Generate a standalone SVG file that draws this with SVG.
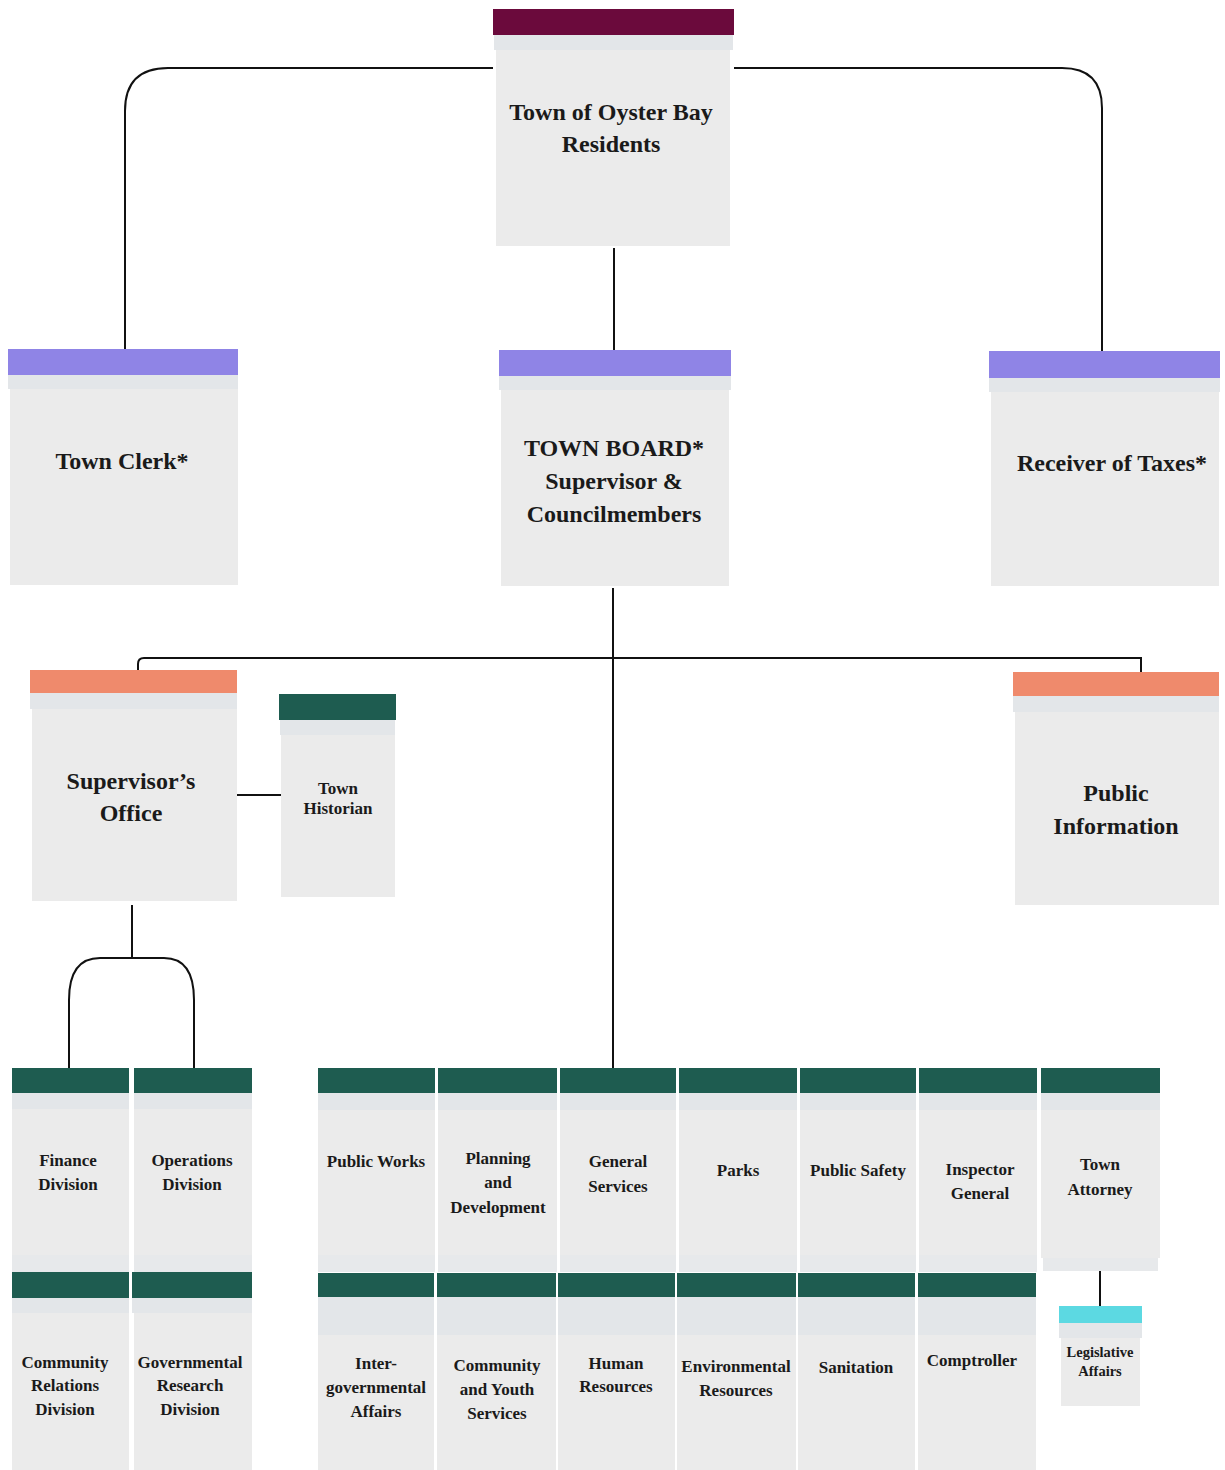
<svg xmlns="http://www.w3.org/2000/svg" width="1225" height="1470" viewBox="0 0 1225 1470">
<style>
.body{fill:#ebebeb}
.band{fill:#e3e6e9}
.sep{fill:#e7e9eb}
.maroon{fill:#6b0a3c}
.purple{fill:#8f84e6}
.salmon{fill:#ef8a6c}
.green{fill:#1e5c50}
.cyan{fill:#5cd9e2}
.conn{fill:none;stroke:#111;stroke-width:2}
text{font-family:"Liberation Serif","Times New Roman",serif;font-weight:bold;fill:#1a1a1a;text-anchor:middle}
.t24{font-size:24px}
.t17{font-size:17px}
.t14{font-size:14.5px}
</style>
<rect width="1225" height="1470" fill="#ffffff"/>
<g id="connectors">
<path class="conn" d="M493,68 H168 Q125,68 125,111 V350"/>
<path class="conn" d="M734,68 H1062 Q1102,68 1102,108 V351"/>
<path class="conn" d="M614,248 V350"/>
<path class="conn" d="M613,588 V1068"/>
<path class="conn" d="M613,658 H144 Q138,658 138,664 V670"/>
<path class="conn" d="M613,658 H1141 V672"/>
<path class="conn" d="M237,795 H281"/>
<path class="conn" d="M132,905 V958"/>
<path class="conn" d="M69,1068 V1000 Q69,958 100,958 H164 Q194,958 194,1000 V1068"/>
<path class="conn" d="M1100,1270 V1306"/>
</g>
<g id="residents">
<rect class="maroon" x="493" y="9" width="241" height="26"/>
<rect class="band" x="494" y="35" width="239" height="15"/>
<rect class="body" x="496" y="50" width="234" height="196"/>
<text class="t24" x="611" y="120">Town of Oyster Bay</text>
<text class="t24" x="611" y="152">Residents</text>
</g>
<g id="town-clerk">
<rect class="purple" x="8" y="349" width="230" height="26"/>
<rect class="band" x="8" y="375" width="230" height="14"/>
<rect class="body" x="10" y="389" width="228" height="196"/>
<text class="t24" x="122" y="469">Town Clerk*</text>
</g>
<g id="town-board">
<rect class="purple" x="499" y="350" width="232" height="26"/>
<rect class="band" x="499" y="376" width="232" height="14"/>
<rect class="body" x="501" y="390" width="228" height="196"/>
<text class="t24" x="614" y="456">TOWN BOARD*</text>
<text class="t24" x="614" y="489">Supervisor &amp;</text>
<text class="t24" x="614" y="522">Councilmembers</text>
</g>
<g id="receiver-of-taxes">
<rect class="purple" x="989" y="351" width="231" height="27"/>
<rect class="band" x="989" y="378" width="231" height="14"/>
<rect class="body" x="991" y="392" width="228" height="194"/>
<text class="t24" x="1112" y="471">Receiver of Taxes*</text>
</g>
<g id="supervisors-office">
<rect class="salmon" x="30" y="670" width="207" height="23"/>
<rect class="band" x="30" y="693" width="207" height="16"/>
<rect class="body" x="32" y="709" width="205" height="192"/>
<text class="t24" x="131" y="789">Supervisor’s</text>
<text class="t24" x="131" y="821">Office</text>
</g>
<g id="town-historian">
<rect class="green" x="279" y="694" width="117" height="26"/>
<rect class="band" x="280" y="720" width="115" height="15"/>
<rect class="body" x="281" y="735" width="114" height="162"/>
<text class="t17" x="338" y="794">Town</text>
<text class="t17" x="338" y="814">Historian</text>
</g>
<g id="public-information">
<rect class="salmon" x="1013" y="672" width="206" height="24"/>
<rect class="band" x="1013" y="696" width="206" height="16"/>
<rect class="body" x="1015" y="712" width="204" height="193"/>
<text class="t24" x="1116" y="801">Public</text>
<text class="t24" x="1116" y="834">Information</text>
</g>
<g id="finance-division">
<rect class="green" x="12" y="1068" width="117" height="25"/>
<rect class="band" x="12" y="1093" width="117" height="16"/>
<rect class="body" x="12" y="1109" width="117" height="146"/>
<rect class="sep" x="12" y="1255" width="117" height="17"/>
<text class="t17" x="68" y="1166">Finance</text>
<text class="t17" x="68" y="1190">Division</text>
</g>
<g id="operations-division">
<rect class="green" x="134" y="1068" width="118" height="25"/>
<rect class="band" x="134" y="1093" width="118" height="16"/>
<rect class="body" x="134" y="1109" width="118" height="146"/>
<rect class="sep" x="134" y="1255" width="118" height="17"/>
<text class="t17" x="192" y="1166">Operations</text>
<text class="t17" x="192" y="1190">Division</text>
</g>
<g id="community-relations-division">
<rect class="green" x="12" y="1272" width="117" height="26"/>
<rect class="band" x="12" y="1298" width="117" height="15"/>
<rect class="body" x="12" y="1313" width="117" height="157"/>
<text class="t17" x="65" y="1368">Community</text>
<text class="t17" x="65" y="1391">Relations</text>
<text class="t17" x="65" y="1415">Division</text>
</g>
<g id="governmental-research-division">
<rect class="green" x="132" y="1272" width="120" height="26"/>
<rect class="band" x="132" y="1298" width="120" height="15"/>
<rect class="body" x="134" y="1313" width="118" height="157"/>
<text class="t17" x="190" y="1368">Governmental</text>
<text class="t17" x="190" y="1391">Research</text>
<text class="t17" x="190" y="1415">Division</text>
</g>
<g id="public-works">
<rect class="green" x="318" y="1068" width="117" height="25"/>
<rect class="band" x="318" y="1093" width="117" height="17"/>
<rect class="body" x="318" y="1110" width="117" height="145"/>
<rect class="sep" x="318" y="1255" width="117" height="17"/>
<text class="t17" x="376" y="1167">Public Works</text>
</g>
<g id="planning-and-development">
<rect class="green" x="438" y="1068" width="119" height="25"/>
<rect class="band" x="438" y="1093" width="119" height="17"/>
<rect class="body" x="438" y="1110" width="119" height="145"/>
<rect class="sep" x="438" y="1255" width="119" height="17"/>
<text class="t17" x="498" y="1164">Planning</text>
<text class="t17" x="498" y="1188">and</text>
<text class="t17" x="498" y="1213">Development</text>
</g>
<g id="general-services">
<rect class="green" x="560" y="1068" width="116" height="25"/>
<rect class="band" x="560" y="1093" width="116" height="17"/>
<rect class="body" x="560" y="1110" width="116" height="145"/>
<rect class="sep" x="560" y="1255" width="116" height="17"/>
<text class="t17" x="618" y="1167">General</text>
<text class="t17" x="618" y="1192">Services</text>
</g>
<g id="parks">
<rect class="green" x="679" y="1068" width="118" height="25"/>
<rect class="band" x="679" y="1093" width="118" height="17"/>
<rect class="body" x="679" y="1110" width="118" height="145"/>
<rect class="sep" x="679" y="1255" width="118" height="17"/>
<text class="t17" x="738" y="1176">Parks</text>
</g>
<g id="public-safety">
<rect class="green" x="800" y="1068" width="116" height="25"/>
<rect class="band" x="800" y="1093" width="116" height="17"/>
<rect class="body" x="800" y="1110" width="116" height="145"/>
<rect class="sep" x="800" y="1255" width="116" height="17"/>
<text class="t17" x="858" y="1176">Public Safety</text>
</g>
<g id="inspector-general">
<rect class="green" x="919" y="1068" width="118" height="25"/>
<rect class="band" x="919" y="1093" width="118" height="17"/>
<rect class="body" x="919" y="1110" width="118" height="145"/>
<rect class="sep" x="919" y="1255" width="118" height="17"/>
<text class="t17" x="980" y="1175">Inspector</text>
<text class="t17" x="980" y="1199">General</text>
</g>
<g id="town-attorney">
<rect class="green" x="1041" y="1068" width="119" height="25"/>
<rect class="band" x="1041" y="1093" width="119" height="17"/>
<rect class="body" x="1041" y="1110" width="119" height="148"/>
<rect class="sep" x="1043" y="1258" width="115" height="13"/>
<text class="t17" x="1100" y="1170">Town</text>
<text class="t17" x="1100" y="1195">Attorney</text>
</g>
<g id="intergovernmental-affairs">
<rect class="green" x="318" y="1273" width="116" height="24"/>
<rect class="band" x="318" y="1297" width="116" height="38"/>
<rect class="body" x="318" y="1335" width="116" height="135"/>
<text class="t17" x="376" y="1369">Inter-</text>
<text class="t17" x="376" y="1393">governmental</text>
<text class="t17" x="376" y="1417">Affairs</text>
</g>
<g id="community-and-youth-services">
<rect class="green" x="437" y="1273" width="119" height="24"/>
<rect class="band" x="437" y="1297" width="119" height="38"/>
<rect class="body" x="437" y="1335" width="119" height="135"/>
<text class="t17" x="497" y="1371">Community</text>
<text class="t17" x="497" y="1395">and Youth</text>
<text class="t17" x="497" y="1419">Services</text>
</g>
<g id="human-resources">
<rect class="green" x="558" y="1273" width="117" height="24"/>
<rect class="band" x="558" y="1297" width="117" height="38"/>
<rect class="body" x="558" y="1335" width="117" height="135"/>
<text class="t17" x="616" y="1369">Human</text>
<text class="t17" x="616" y="1392">Resources</text>
</g>
<g id="environmental-resources">
<rect class="green" x="677" y="1273" width="119" height="24"/>
<rect class="band" x="677" y="1297" width="119" height="38"/>
<rect class="body" x="677" y="1335" width="119" height="135"/>
<text class="t17" x="736" y="1372">Environmental</text>
<text class="t17" x="736" y="1396">Resources</text>
</g>
<g id="sanitation">
<rect class="green" x="798" y="1273" width="117" height="24"/>
<rect class="band" x="798" y="1297" width="117" height="38"/>
<rect class="body" x="798" y="1335" width="117" height="135"/>
<text class="t17" x="856" y="1373">Sanitation</text>
</g>
<g id="comptroller">
<rect class="green" x="918" y="1273" width="118" height="24"/>
<rect class="band" x="918" y="1297" width="118" height="38"/>
<rect class="body" x="918" y="1335" width="118" height="135"/>
<text class="t17" x="972" y="1366">Comptroller</text>
</g>
<g id="legislative-affairs">
<rect class="cyan" x="1059" y="1306" width="83" height="17"/>
<rect class="band" x="1059" y="1323" width="83" height="15"/>
<rect class="body" x="1061" y="1338" width="79" height="68"/>
<text class="t14" x="1100" y="1357">Legislative</text>
<text class="t14" x="1100" y="1376">Affairs</text>
</g>
</svg>
